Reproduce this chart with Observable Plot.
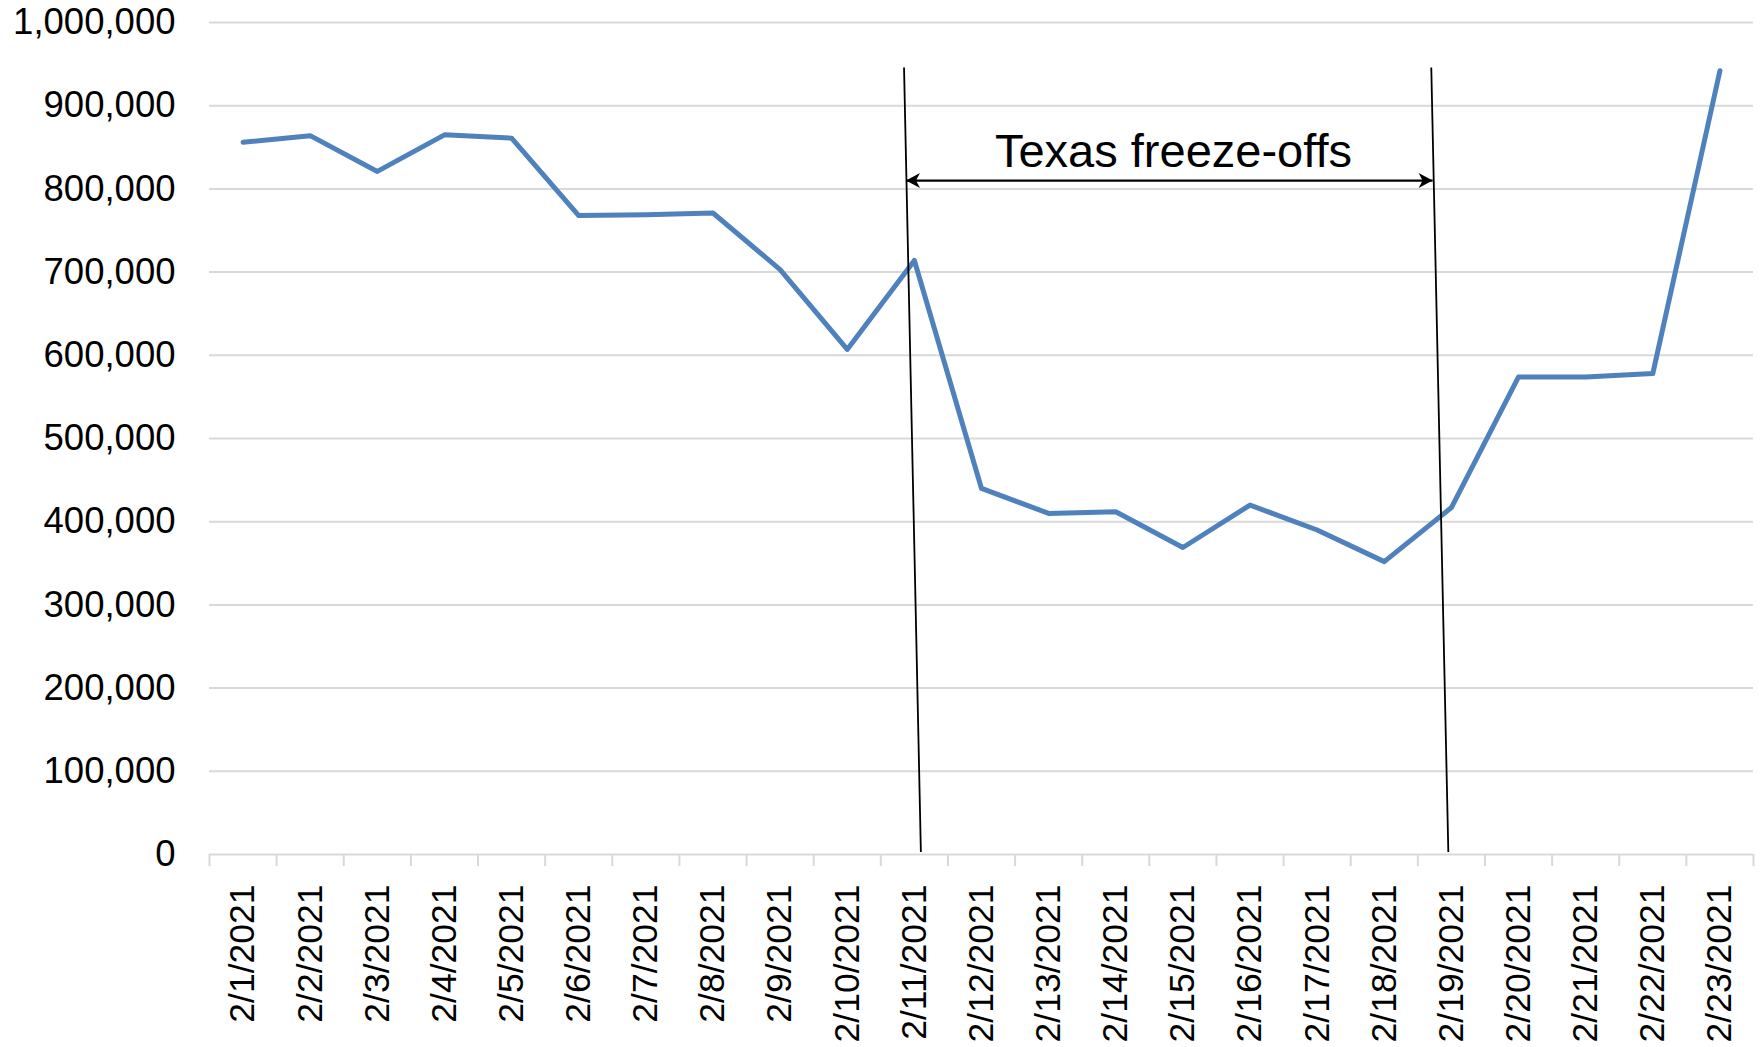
<!DOCTYPE html>
<html>
<head>
<meta charset="utf-8">
<script src="https://cdn.jsdelivr.net/npm/d3@7"></script>
<script src="https://cdn.jsdelivr.net/npm/@observablehq/plot@0.6"></script>
<style>
  html, body { margin: 0; padding: 0; background: #fff; }
  #chart svg { display: block; }
</style>
</head>
<body>
<div id="chart"></div>
<script>
// ---- Data ----
const dates = [
  "2/1/2021", "2/2/2021", "2/3/2021", "2/4/2021", "2/5/2021", "2/6/2021",
  "2/7/2021", "2/8/2021", "2/9/2021", "2/10/2021", "2/11/2021", "2/12/2021",
  "2/13/2021", "2/14/2021", "2/15/2021", "2/16/2021", "2/17/2021", "2/18/2021",
  "2/19/2021", "2/20/2021", "2/21/2021", "2/22/2021", "2/23/2021"
];
const values = [
  856000, 864000, 821000, 865000, 861000, 768000,
  769000, 771000, 703000, 607000, 714000, 440000,
  410000, 412000, 369000, 420000, 390000, 352000,
  417000, 574000, 574000, 578000, 942000
];
const yTicks = [0, 100000, 200000, 300000, 400000, 500000, 600000, 700000, 800000, 900000, 1000000];

// Annotation (in data units: day index along x, value along y)
const freezeLines = [
  { x1: 10.846, y1: 946000, x2: 11.097, y2: 3000 },
  { x1: 18.700, y1: 946000, x2: 18.954, y2: 3000 }
];
const freezeSpan = [{ x1: 10.875, x2: 18.72, y: 810000 }];
const freezeTips = [
  { x: 10.875, y: 810000, dir: 180 },
  { x: 18.72, y: 810000, dir: 0 }
];
const freezeLabel = [{ x: 14.86, y: 826000, text: "Texas freeze-offs" }];

// ---- Build ----
const data = dates.map((d, i) => ({ i: i + 1, date: d, value: values[i] }));
const centers = dates.map((d, i) => i + 1);
const boundaries = d3.range(0, dates.length + 1).map(k => k + 0.5);

// stealth arrowhead with its tip at the origin, pointing right
const stealthSymbol = {
  draw(context, size) {
    context.moveTo(0, 0);
    context.lineTo(-14, -7.5);
    context.lineTo(-10, 0);
    context.lineTo(-14, 7.5);
    context.closePath();
  }
};

const chart = Plot.plot({
  width: 1760,
  height: 1047,
  marginLeft: 209,
  marginRight: 7,
  marginTop: 22,
  marginBottom: 193,
  style: {
    fontFamily: "'Liberation Sans', Arial, Helvetica, sans-serif",
    fontSize: "36px",
    color: "#000",
    background: "#fff",
    overflow: "visible"
  },
  x: { type: "linear", domain: [0.5, dates.length + 0.5], axis: null },
  y: { domain: [0, 1000000], axis: null },
  marks: [
    Plot.gridY(yTicks.slice(1), { stroke: "#d9d9d9", strokeOpacity: 1, strokeWidth: 2 }),
    Plot.ruleY([0], { stroke: "#d9d9d9", strokeWidth: 2 }),
    Plot.axisY(yTicks, {
      tickSize: 0, tickPadding: 34, tickFormat: d3.format(","),
      fontSize: 36.5, fill: "#000", label: null
    }),
    Plot.axisX(boundaries, {
      tickSize: 12, stroke: "#d9d9d9", strokeWidth: 2, strokeOpacity: 1,
      tickFormat: () => "", label: null
    }),
    Plot.axisX(centers, {
      tickSize: 0, tickPadding: 30, tickRotate: -90,
      tickFormat: i => dates[i - 1], fontSize: 35.5, fill: "#000", label: null
    }),
    Plot.line(data, {
      x: "i", y: "value", stroke: "#4f81bd", strokeWidth: 5,
      strokeLinejoin: "round", strokeLinecap: "round"
    }),
    Plot.link(freezeLines, {
      x1: "x1", y1: "y1", x2: "x2", y2: "y2", stroke: "#000", strokeWidth: 1.8
    }),
    Plot.link(freezeSpan, {
      x1: "x1", x2: "x2", y1: "y", y2: "y", stroke: "#000", strokeWidth: 2.4
    }),
    Plot.dot(freezeTips, {
      x: "x", y: "y", rotate: "dir", symbol: stealthSymbol, r: 8,
      fill: "#000", stroke: "none"
    }),
    Plot.text(freezeLabel, {
      x: "x", y: "y", text: "text", fontSize: 47, lineAnchor: "bottom",
      textAnchor: "middle", fill: "#000"
    })
  ]
});
document.getElementById("chart").appendChild(chart);
</script>
</body>
</html>
